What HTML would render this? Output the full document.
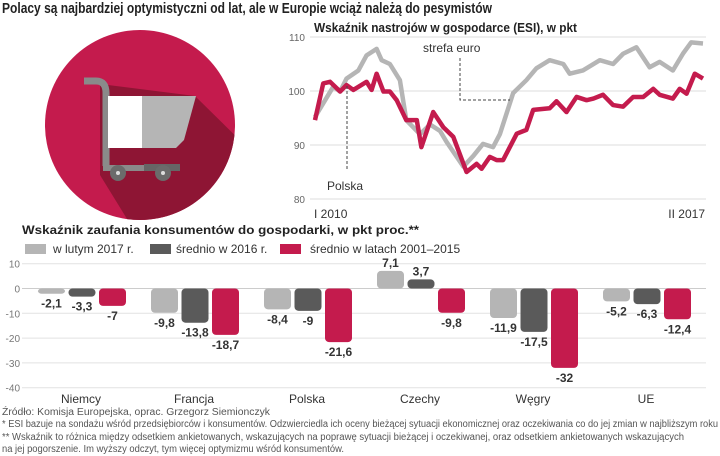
<!DOCTYPE html>
<html><head><meta charset="utf-8"><style>
body{margin:0;background:#fff;width:720px;height:456px;overflow:hidden}
svg{display:block;font-family:"Liberation Sans",sans-serif}
</style></head><body>
<svg id="c" width="720" height="456" viewBox="0 0 720 456">
<text x="2" y="13" font-size="15" font-weight="bold" fill="#222" textLength="490" lengthAdjust="spacingAndGlyphs">Polacy są najbardziej optymistyczni od lat, ale w Europie wciąż należą do pesymistów</text>
<defs><clipPath id="cc"><circle cx="140" cy="125" r="95"/></clipPath></defs>
<g>
<circle cx="140" cy="125" r="95" fill="#c41b4d"/>
<polygon clip-path="url(#cc)" points="100,84 195,96 260,160 260,240 140,240 100,175" fill="#8e1534"/>
<path d="M84,81 L96,81 Q106,81 106,93 L106,166" stroke="#8a8a8a" stroke-width="7" fill="none"/>
<rect x="108" y="96" width="34" height="52" fill="#fff"/>
<polygon points="142,96 196,96 184,140 176,148 142,148" fill="#b5b5b5"/>
<path d="M106,148 L106,168 L180,168" stroke="#8a8a8a" stroke-width="6" fill="none"/>
<rect x="144" y="164" width="36" height="7" fill="#666"/>
<circle cx="118" cy="173" r="8" fill="#6b6b6b"/><circle cx="118" cy="173" r="2" fill="#ddd"/>
<circle cx="163" cy="173" r="8" fill="#6b6b6b"/><circle cx="163" cy="173" r="2" fill="#ddd"/>
</g>
<text x="314" y="32" font-size="13" font-weight="bold" fill="#222" textLength="263" lengthAdjust="spacingAndGlyphs">Wskaźnik nastrojów w gospodarce (ESI), w pkt</text>
<g id="lc"></g>
<text x="22" y="234" font-size="12" font-weight="bold" fill="#222" textLength="397" lengthAdjust="spacingAndGlyphs">Wskaźnik zaufania konsumentów do gospodarki, w pkt proc.**</text>
<g>
<g><rect x="25" y="244" width="21" height="10" fill="#b5b5b5"/><text x="53" y="253" font-size="12" fill="#333">w lutym 2017 r.</text></g>
<g><rect x="150" y="244" width="21" height="10" fill="#5a5a5a"/><text x="176" y="253" font-size="12" fill="#333">średnio w 2016 r.</text></g>
<g><rect x="280" y="244" width="21" height="10" fill="#c41b4d"/><text x="310" y="253" font-size="12" fill="#333">średnio w latach 2001–2015</text></g>
</g>
<g id="bc"></g>
<g font-size="10" fill="#555">
<text x="2" y="415" textLength="268" lengthAdjust="spacingAndGlyphs">Źródło: Komisja Europejska, oprac. Grzegorz Siemionczyk</text>
<text x="2" y="427" textLength="716" lengthAdjust="spacingAndGlyphs">* ESI bazuje na sondażu wśród przedsiębiorców i konsumentów. Odzwierciedla ich oceny bieżącej sytuacji ekonomicznej oraz oczekiwania co do jej zmian w najbliższym roku</text>
<text x="2" y="440" textLength="682" lengthAdjust="spacingAndGlyphs">** Wskaźnik to różnica między odsetkiem ankietowanych, wskazujących na poprawę sytuacji bieżącej i oczekiwanej, oraz odsetkiem ankietowanych wskazujących</text>
<text x="2" y="452" textLength="342" lengthAdjust="spacingAndGlyphs">na jej pogorszenie. Im wyższy odczyt, tym więcej optymizmu wśród konsumentów.</text>
</g>
</svg>
<script>
const esiTicks=[80,90,100,110];
const euroMonths=[0,4,5.5,6.9,9.5,11.3,13.5,14.6,16.4,18.6,20,23,25.2,27.4,28.8,32.5,34.7,36.8,39,40.5,43.4,46.3,48.5,51.4,54.4,55.8,58.7,62.4,65.3,67.5,70.4,73.3,75.5,78.4,80.6,82.4,85];
const euroVals=[95.2,100.8,99.9,102.3,103.8,106.6,107.8,105.7,105,102,94.6,92,93.8,92.6,90.6,86,88,90.2,89.6,92,99.6,102,104.2,105.7,105,103.2,103.8,105.7,105,106.9,108.1,104.4,105.4,103.8,106.9,109,108.8];
const plMonths=[0,1.8,3.3,5.5,6.9,8.4,11.3,12.4,13.5,15,16.4,17.9,20,22.3,23.3,25.9,28.1,30.3,33.2,35.4,36.5,38.3,39.8,41.2,44.2,46.3,47.8,51.4,52.9,55.1,57.3,59.5,61,63.1,65.3,67.5,69.7,71.9,74.1,75.5,78.4,79.9,81.4,83.2,85];
const plVals=[94.6,101.4,101.7,99.9,101.1,100.2,101.7,100.2,103.2,99.9,99.9,98.3,94.6,94.6,89.6,96.1,93.3,91.5,85,86.5,85.6,87.8,87.2,87.2,92.1,92.8,96.5,96.8,98.1,96.1,98.9,98.3,98.6,99.3,97.4,97.1,98.9,98.9,100.4,99.3,98.6,100.4,99.5,103.2,102.3];
const categories=["Niemcy","Francja","Polska","Czechy","Węgry","UE"];
const valsFeb2017=[-2.1,-9.8,-8.4,7.1,-11.9,-5.2];
const vals2016=[-3.3,-13.8,-9,3.7,-17.5,-6.3];
const vals2001=[-7,-18.7,-21.6,-9.8,-32,-12.4];
const barTicks=[10,0,-10,-20,-30,-40];
const NS="http://www.w3.org/2000/svg";
function mk(p,t,a){const e=document.createElementNS(NS,t);for(const k in a)e.setAttribute(k,a[k]);p.appendChild(e);return e;}
const lc=document.getElementById('lc');
const lx=m=>315+m*(703-315)/85, ly=v=>91-(v-100)*5.4;
esiTicks.forEach(t=>{
 const g=mk(lc,'line',{x1:310,x2:706,y1:ly(t),y2:ly(t),stroke:'#ddd','stroke-width':1});
 
 
 const tx=mk(lc,'text',{x:305,y:ly(t)+4,'font-size':10,fill:'#666','text-anchor':'end'});tx.textContent=t;
 
 
});
function line(ms,vs,col,name){const p=mk(lc,'polyline',{points:ms.map((m,i)=>lx(m)+','+ly(vs[i])).join(' '),fill:'none',stroke:col,'stroke-width':4.5,'stroke-linejoin':'round'});
 
 }
line(euroMonths,euroVals,'#b5b5b5','euro-area-line');
line(plMonths,plVals,'#c41b4d','poland-line');
mk(lc,'polyline',{points:'460,58 460,100 510,100',fill:'none',stroke:'#444','stroke-dasharray':'3,2','stroke-width':1});
mk(lc,'line',{x1:347,y1:86,x2:347,y2:170,stroke:'#444','stroke-dasharray':'3,2','stroke-width':1});
let t=mk(lc,'text',{x:423,y:52,'font-size':12,fill:'#333'});t.textContent='strefa euro';


t=mk(lc,'text',{x:327,y:190,'font-size':12,fill:'#333'});t.textContent='Polska';


t=mk(lc,'text',{x:314,y:218,'font-size':12,fill:'#333'});t.textContent='I 2010';


t=mk(lc,'text',{x:705,y:218,'font-size':12,fill:'#333','text-anchor':'end'});t.textContent='II 2017';


const bc=document.getElementById('bc');
const by=v=>288.5-v*2.48;
barTicks.forEach(v=>{
 const g=mk(bc,'line',{x1:22,x2:706,y1:by(v),y2:by(v),stroke:v===0?'#ccc':'#e2e2e2','stroke-width':1});
 
 
 const tx=mk(bc,'text',{x:20,y:by(v)+4,'font-size':10,fill:'#777','text-anchor':'end'});tx.textContent=v;
 
 
});
const series=[[valsFeb2017,'#b5b5b5','feb-2017'],[vals2016,'#5a5a5a','2016'],[vals2001,'#c41b4d','2001-2015']];
categories.forEach((c,i)=>{
 const gx=38+i*113;
 series.forEach((s,j)=>{
  const v=s[0][i],x=gx+j*30.5,y0=by(0),y1=by(v);
  const r=mk(bc,'rect',{x:x,y:Math.min(y0,y1),width:27,height:Math.max(Math.abs(y1-y0),1),rx:4,fill:s[1]});
  
  
  const lbl=mk(bc,'text',{x:x+13.5,y:v<0?y1+14:y1-4,'font-size':12,'font-weight':'bold',fill:'#333','text-anchor':'middle'});
  lbl.textContent=String(v).replace('.',',');
  
  
 });
 const cl=mk(bc,'text',{x:gx+43,y:403,'font-size':12,fill:'#333','text-anchor':'middle'});cl.textContent=c;
 
 
});
</script>
</body></html>
